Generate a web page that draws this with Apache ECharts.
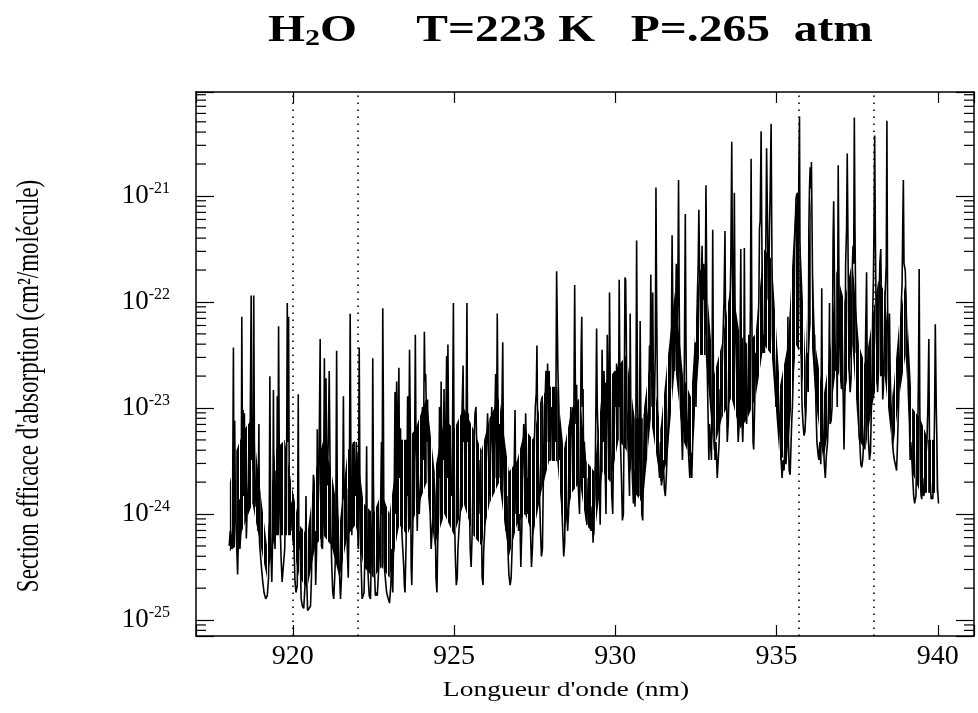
<!DOCTYPE html>
<html><head><meta charset="utf-8">
<script src="https://cdn.jsdelivr.net/npm/echarts@6/dist/echarts.min.js"></script>
<style>html,body{margin:0;padding:0;background:#fff}#c{width:978px;height:713px}</style>
</head><body><div id="c"></div>
<script>
// Absorption cross-section of H2O, values stored as log10(sigma / (cm^2/molecule)) vs wavelength (nm)
const spectrum918to923 = [[918.03,-24.30],[918.06,-24.16],[918.10,-24.33],[918.13,-24.13],[918.16,-22.43],[918.18,-24.00],[918.20,-23.12],[918.22,-23.93],[918.25,-24.20],[918.29,-24.57],[918.32,-24.16],[918.34,-23.86],[918.36,-24.33],[918.40,-24.13],[918.42,-22.14],[918.44,-23.32],[918.46,-23.02],[918.48,-23.83],[918.50,-23.05],[918.52,-24.00],[918.54,-23.32],[918.56,-24.23],[918.59,-23.93],[918.62,-23.69],[918.65,-23.19],[918.67,-23.63],[918.71,-21.94],[918.73,-23.49],[918.75,-23.09],[918.77,-23.59],[918.79,-21.94],[918.81,-23.32],[918.83,-23.63],[918.86,-23.93],[918.89,-23.83],[918.92,-24.16],[918.95,-23.15],[918.97,-24.27],[919.01,-24.43],[919.04,-24.54],[919.07,-24.64],[919.11,-24.74],[919.16,-24.80],[919.21,-24.77],[919.25,-24.60],[919.27,-24.16],[919.29,-22.70],[919.32,-24.33],[919.35,-24.64],[919.38,-24.16],[919.40,-22.83],[919.42,-24.00],[919.45,-24.33],[919.48,-23.59],[919.50,-24.00],[919.52,-22.89],[919.54,-23.83],[919.56,-22.23],[919.58,-23.32],[919.60,-24.00],[919.64,-24.43],[919.67,-24.64],[919.71,-24.65],[919.75,-24.33],[919.78,-23.83],[919.80,-24.16],[919.83,-22.01],[919.85,-23.32],[919.87,-22.14],[919.89,-23.66],[919.91,-23.86],[919.95,-23.90],[919.98,-24.16],[920.01,-24.00],[920.04,-24.33],[920.07,-24.64],[920.10,-24.74],[920.14,-24.67],[920.17,-22.87],[920.19,-24.33],[920.22,-24.16],[920.26,-24.80],[920.30,-24.87],[920.34,-24.89],[920.38,-24.67],[920.41,-23.83],[920.43,-24.60],[920.46,-24.91],[920.50,-24.91],[920.55,-24.87],[920.58,-24.60],[920.61,-24.00],[920.64,-23.63],[920.66,-24.33],[920.69,-24.16],[920.71,-24.67],[920.74,-24.33],[920.76,-23.20],[920.78,-24.00],[920.81,-23.66],[920.85,-22.35],[920.87,-24.00],[920.89,-24.30],[920.92,-24.33],[920.95,-24.00],[920.98,-22.53],[921.00,-23.66],[921.03,-22.72],[921.05,-23.49],[921.07,-23.73],[921.10,-23.32],[921.13,-22.65],[921.16,-23.66],[921.18,-24.13],[921.21,-24.50],[921.24,-24.74],[921.27,-24.80],[921.30,-24.60],[921.33,-24.33],[921.36,-22.46],[921.38,-23.83],[921.41,-23.83],[921.44,-24.50],[921.48,-24.80],[921.51,-24.60],[921.54,-24.16],[921.57,-22.89],[921.59,-23.83],[921.62,-23.90],[921.65,-24.16],[921.67,-23.76],[921.69,-24.33],[921.72,-24.60],[921.75,-24.00],[921.78,-22.11],[921.80,-23.32],[921.83,-24.20],[921.86,-23.66],[921.88,-23.32],[921.91,-23.53],[921.94,-23.83],[921.97,-23.32],[922.00,-24.00],[922.03,-24.33],[922.06,-22.43],[922.09,-24.16],[922.12,-24.50],[922.15,-24.80],[922.18,-24.77],[922.21,-24.74],[922.24,-24.33],[922.27,-24.00],[922.29,-23.36],[922.31,-24.40],[922.34,-24.60],[922.37,-24.77],[922.41,-24.80],[922.44,-24.33],[922.46,-24.00],[922.48,-22.53],[922.50,-23.66],[922.53,-24.50],[922.56,-24.77],[922.59,-24.74],[922.62,-24.77],[922.65,-24.60],[922.68,-24.40],[922.72,-24.00],[922.75,-23.32],[922.77,-24.00],[922.79,-22.06],[922.81,-22.99],[922.83,-24.47]];

const spectrum923to929 = [[922.91,-24.74],[922.96,-24.80],[923.00,-24.84],[923.04,-24.67],[923.07,-24.33],[923.10,-24.74],[923.14,-24.00],[923.17,-22.85],[923.19,-24.00],[923.22,-22.75],[923.24,-23.66],[923.26,-23.32],[923.29,-22.62],[923.31,-23.66],[923.34,-23.19],[923.36,-23.83],[923.38,-24.16],[923.41,-24.33],[923.44,-24.50],[923.46,-24.67],[923.48,-24.74],[923.51,-24.33],[923.54,-23.66],[923.56,-22.89],[923.58,-23.83],[923.60,-23.32],[923.62,-22.45],[923.65,-23.32],[923.67,-24.50],[923.69,-24.67],[923.72,-24.16],[923.75,-23.66],[923.78,-23.32],[923.80,-22.31],[923.82,-23.32],[923.84,-23.83],[923.86,-24.16],[923.89,-23.66],[923.92,-24.00],[923.96,-23.73],[923.99,-23.32],[924.02,-22.99],[924.05,-23.49],[924.08,-22.28],[924.10,-22.75],[924.12,-22.68],[924.14,-22.99],[924.16,-23.32],[924.18,-22.92],[924.20,-23.49],[924.22,-23.83],[924.26,-24.00],[924.29,-24.33],[924.32,-24.16],[924.35,-24.00],[924.38,-23.66],[924.41,-23.83],[924.44,-24.60],[924.47,-24.74],[924.49,-24.33],[924.52,-24.00],[924.55,-22.99],[924.58,-23.66],[924.60,-22.75],[924.62,-23.66],[924.64,-23.32],[924.66,-23.49],[924.69,-22.82],[924.72,-24.00],[924.74,-23.32],[924.77,-22.51],[924.79,-23.66],[924.81,-22.40],[924.83,-23.15],[924.85,-24.00],[924.89,-23.66],[924.92,-23.83],[924.95,-23.32],[924.98,-22.01],[925.00,-23.32],[925.02,-24.10],[925.04,-24.40],[925.07,-24.67],[925.10,-24.60],[925.12,-24.33],[925.15,-24.16],[925.19,-24.00],[925.22,-23.56],[925.25,-22.99],[925.28,-22.60],[925.30,-23.32],[925.32,-23.12],[925.34,-23.66],[925.37,-23.32],[925.40,-22.01],[925.42,-23.32],[925.44,-23.05],[925.46,-23.49],[925.50,-24.33],[925.53,-24.50],[925.56,-24.20],[925.59,-23.66],[925.62,-23.32],[925.65,-23.05],[925.68,-22.99],[925.71,-23.49],[925.74,-23.66],[925.77,-24.00],[925.81,-23.49],[925.84,-23.83],[925.87,-24.60],[925.90,-24.67],[925.92,-24.33],[925.95,-24.16],[925.98,-23.66],[926.01,-23.32],[926.04,-23.05],[926.07,-23.46],[926.11,-23.83],[926.14,-23.32],[926.17,-22.99],[926.20,-23.42],[926.23,-23.66],[926.26,-23.15],[926.29,-22.68],[926.31,-23.66],[926.34,-22.11],[926.36,-22.99],[926.38,-23.32],[926.41,-23.15],[926.43,-23.66],[926.46,-23.49],[926.48,-23.09],[926.51,-22.38],[926.53,-23.32],[926.55,-23.66],[926.58,-24.00],[926.61,-24.16],[926.64,-23.83],[926.67,-24.33],[926.70,-24.57],[926.74,-24.67],[926.77,-24.60],[926.80,-24.33],[926.83,-24.00],[926.86,-23.66],[926.89,-23.02],[926.92,-24.00],[926.94,-23.66],[926.97,-23.83],[927.00,-24.16],[927.04,-24.00],[927.07,-24.50],[927.10,-24.16],[927.13,-23.49],[927.16,-23.15],[927.19,-23.66],[927.22,-23.05],[927.25,-23.49],[927.28,-24.00],[927.31,-23.66],[927.34,-23.83],[927.37,-24.16],[927.40,-24.50],[927.43,-24.33],[927.46,-24.00],[927.49,-23.32],[927.52,-22.99],[927.55,-22.85],[927.57,-22.41],[927.59,-23.15],[927.61,-23.49],[927.65,-23.83],[927.68,-24.16],[927.71,-24.40],[927.74,-24.33],[927.77,-23.66],[927.80,-22.99],[927.83,-22.85],[927.85,-22.65],[927.87,-23.32],[927.90,-22.58],[927.92,-22.92],[927.95,-22.65],[927.97,-23.32],[927.99,-23.15],[928.02,-22.99],[928.05,-23.49],[928.08,-23.32],[928.11,-22.99],[928.14,-23.32],[928.16,-22.82],[928.18,-21.71],[928.20,-22.18],[928.22,-22.65],[928.25,-22.99],[928.28,-23.49],[928.31,-23.32],[928.34,-23.93],[928.37,-24.16],[928.40,-24.40],[928.43,-24.27],[928.46,-23.32],[928.49,-23.83],[928.52,-24.16],[928.55,-24.00],[928.59,-23.49],[928.62,-22.99],[928.65,-23.15],[928.68,-23.66],[928.71,-23.26],[928.74,-21.84],[928.76,-22.75],[928.78,-23.15],[928.80,-22.78],[928.82,-23.32],[928.85,-23.73],[928.89,-24.00],[928.91,-23.49],[928.94,-22.45],[928.96,-22.14],[928.98,-22.99],[929.00,-22.82],[929.02,-23.66],[929.04,-23.32]];

const spectrum929to935 = [[929.06,-23.49],[929.09,-24.00],[929.12,-24.10],[929.16,-23.66],[929.19,-23.83],[929.22,-24.00],[929.25,-24.16],[929.28,-23.93],[929.31,-24.27],[929.34,-24.00],[929.37,-23.83],[929.40,-22.92],[929.42,-22.25],[929.44,-22.99],[929.47,-23.32],[929.50,-23.66],[929.53,-24.10],[929.55,-23.66],[929.57,-23.32],[929.59,-22.45],[929.61,-22.99],[929.63,-23.32],[929.65,-22.65],[929.67,-22.99],[929.69,-23.66],[929.71,-24.00],[929.73,-23.32],[929.75,-22.31],[929.78,-22.99],[929.80,-23.49],[929.82,-21.91],[929.84,-22.65],[929.86,-23.32],[929.89,-23.83],[929.92,-24.00],[929.94,-23.49],[929.97,-23.15],[930.00,-22.65],[930.02,-22.99],[930.04,-22.58],[930.07,-22.72],[930.10,-22.99],[930.12,-21.79],[930.14,-22.65],[930.16,-23.32],[930.19,-23.66],[930.22,-24.06],[930.25,-24.00],[930.28,-22.75],[930.30,-21.77],[930.32,-21.79],[930.34,-22.31],[930.36,-22.99],[930.39,-23.32],[930.41,-23.49],[930.44,-23.83],[930.46,-22.11],[930.48,-22.99],[930.50,-23.32],[930.53,-23.66],[930.56,-23.90],[930.59,-23.59],[930.61,-23.93],[930.63,-23.66],[930.66,-21.42],[930.69,-22.99],[930.71,-23.32],[930.73,-23.83],[930.75,-23.15],[930.77,-22.18],[930.79,-22.99],[930.82,-24.00],[930.85,-24.06],[930.87,-23.66],[930.90,-23.05],[930.93,-23.32],[930.96,-23.49],[930.99,-23.15],[931.03,-22.99],[931.06,-22.41],[931.08,-22.65],[931.10,-21.74],[931.12,-22.48],[931.14,-22.99],[931.16,-21.91],[931.18,-22.75],[931.21,-22.99],[931.24,-22.48],[931.26,-20.92],[931.28,-21.98],[931.31,-22.99],[931.34,-23.49],[931.37,-23.66],[931.40,-23.32],[931.43,-23.73],[931.46,-23.66],[931.49,-23.49],[931.52,-23.76],[931.55,-23.83],[931.58,-23.66],[931.62,-23.32],[931.65,-22.99],[931.68,-22.48],[931.71,-22.82],[931.74,-22.31],[931.76,-21.37],[931.78,-21.98],[931.80,-22.31],[931.82,-22.14],[931.84,-22.65],[931.86,-22.31],[931.89,-21.64],[931.92,-22.31],[931.94,-21.81],[931.96,-20.85],[931.98,-21.98],[932.00,-22.65],[932.02,-22.99],[932.05,-23.15],[932.08,-23.49],[932.11,-23.15],[932.14,-22.58],[932.17,-21.17],[932.19,-22.31],[932.21,-22.99],[932.25,-23.32],[932.28,-23.49],[932.31,-23.66],[932.34,-23.42],[932.37,-23.66],[932.40,-23.32],[932.43,-23.15],[932.46,-22.65],[932.48,-22.38],[932.50,-22.99],[932.52,-22.65],[932.54,-21.98],[932.57,-21.64],[932.59,-21.13],[932.61,-21.64],[932.63,-21.98],[932.65,-22.31],[932.67,-21.81],[932.69,-21.47],[932.71,-21.98],[932.74,-21.64],[932.76,-21.98],[932.78,-22.31],[932.81,-20.90],[932.83,-21.64],[932.85,-22.65],[932.88,-23.15],[932.90,-23.49],[932.92,-23.15],[932.95,-23.32],[932.98,-23.49],[933.00,-22.65],[933.02,-21.32],[933.04,-22.65],[933.06,-22.99],[933.09,-23.49],[933.12,-23.32],[933.16,-23.66],[933.19,-23.49],[933.22,-23.32],[933.25,-22.82],[933.28,-22.99],[933.31,-22.65],[933.34,-22.31],[933.37,-21.98],[933.40,-21.33],[933.42,-22.31],[933.44,-22.65],[933.47,-23.32],[933.50,-23.15],[933.53,-22.82],[933.56,-21.98],[933.58,-21.64],[933.61,-20.49],[933.63,-21.64],[933.65,-22.31],[933.67,-21.98],[933.69,-20.97],[933.71,-21.98],[933.73,-22.31],[933.76,-22.65],[933.78,-22.99],[933.81,-23.32],[933.84,-23.15],[933.86,-22.65],[933.89,-21.50],[933.91,-22.65],[933.93,-23.15],[933.95,-23.32],[933.98,-22.99],[934.00,-21.49],[934.02,-22.65],[934.04,-22.99],[934.07,-23.15],[934.11,-22.82],[934.14,-22.31],[934.17,-22.65],[934.19,-21.98],[934.21,-20.65],[934.23,-21.98],[934.25,-22.82],[934.27,-23.32],[934.29,-23.39],[934.32,-22.99],[934.35,-22.48],[934.39,-22.65],[934.42,-22.31],[934.45,-21.98],[934.47,-21.30],[934.49,-21.24],[934.52,-20.39],[934.54,-21.30],[934.56,-21.98],[934.58,-22.48],[934.60,-22.31],[934.62,-22.48],[934.65,-21.98],[934.67,-21.30],[934.69,-20.55],[934.72,-21.30],[934.74,-21.98],[934.76,-21.81],[934.78,-21.30],[934.80,-20.97],[934.83,-20.32],[934.85,-21.30],[934.87,-22.31],[934.89,-22.48],[934.91,-22.25],[934.93,-22.48],[934.95,-22.65],[934.98,-22.99],[935.01,-22.92],[935.04,-22.75],[935.07,-22.99],[935.09,-23.15]];

const spectrum935to940 = [[935.14,-23.49],[935.17,-23.66],[935.20,-23.49],[935.23,-23.59],[935.26,-23.32],[935.29,-23.53],[935.33,-23.32],[935.35,-22.14],[935.37,-23.32],[935.39,-23.59],[935.42,-23.63],[935.45,-23.32],[935.47,-23.12],[935.49,-22.99],[935.52,-22.65],[935.54,-22.31],[935.56,-21.50],[935.58,-21.30],[935.60,-21.03],[935.62,-20.99],[935.65,-20.97],[935.67,-21.47],[935.69,-20.80],[935.71,-20.25],[935.73,-21.98],[935.75,-22.31],[935.77,-22.65],[935.79,-22.99],[935.82,-23.15],[935.85,-23.26],[935.88,-23.22],[935.91,-22.99],[935.94,-22.65],[935.96,-22.48],[935.98,-22.85],[936.00,-21.30],[936.02,-20.93],[936.04,-20.73],[936.06,-20.93],[936.08,-20.68],[936.10,-21.30],[936.12,-21.98],[936.14,-22.31],[936.16,-22.38],[936.18,-22.31],[936.20,-22.65],[936.22,-22.99],[936.25,-23.32],[936.28,-23.42],[936.31,-23.49],[936.34,-23.32],[936.37,-23.53],[936.40,-21.87],[936.42,-22.99],[936.45,-23.32],[936.48,-23.53],[936.51,-23.66],[936.54,-23.46],[936.58,-23.32],[936.61,-22.99],[936.64,-22.01],[936.66,-23.15],[936.69,-23.12],[936.72,-22.99],[936.75,-21.44],[936.77,-21.05],[936.79,-21.64],[936.81,-22.31],[936.83,-22.65],[936.86,-22.48],[936.88,-22.99],[936.91,-20.71],[936.93,-21.64],[936.95,-22.31],[936.98,-22.65],[937.01,-22.82],[937.03,-22.14],[937.05,-22.65],[937.07,-22.99],[937.09,-23.39],[937.12,-22.82],[937.14,-21.64],[937.17,-21.30],[937.19,-20.60],[937.21,-21.30],[937.23,-22.14],[937.25,-22.65],[937.28,-22.85],[937.31,-22.72],[937.33,-21.98],[937.35,-21.64],[937.37,-21.47],[937.39,-21.64],[937.41,-20.26],[937.43,-21.30],[937.45,-21.98],[937.47,-22.48],[937.50,-22.31],[937.52,-22.65],[937.54,-22.99],[937.56,-23.26],[937.58,-23.32],[937.61,-23.53],[937.64,-23.56],[937.67,-23.49],[937.70,-23.32],[937.73,-23.15],[937.76,-22.31],[937.79,-21.72],[937.81,-22.65],[937.83,-23.15],[937.85,-23.32],[937.88,-23.49],[937.91,-23.42],[937.94,-22.99],[937.96,-22.65],[937.98,-22.11],[938.00,-21.81],[938.02,-21.30],[938.04,-20.43],[938.06,-21.30],[938.09,-22.31],[938.11,-22.48],[938.13,-22.85],[938.16,-22.65],[938.18,-21.98],[938.20,-21.64],[938.23,-21.50],[938.25,-21.98],[938.27,-22.31],[938.29,-22.92],[938.31,-22.82],[938.33,-22.51],[938.36,-21.98],[938.40,-21.64],[938.42,-20.29],[938.44,-21.98],[938.46,-22.65],[938.48,-22.82],[938.50,-22.11],[938.52,-22.65],[938.54,-22.92],[938.57,-23.12],[938.59,-23.32],[938.62,-23.42],[938.65,-23.49],[938.68,-23.53],[938.72,-23.59],[938.75,-23.32],[938.78,-22.99],[938.81,-22.65],[938.84,-22.31],[938.87,-21.98],[938.89,-21.84],[938.91,-21.30],[938.93,-20.85],[938.95,-21.64],[938.97,-21.67],[938.99,-21.71],[939.01,-21.98],[939.04,-22.31],[939.06,-22.48],[939.08,-22.82],[939.10,-22.99],[939.12,-23.15],[939.14,-23.49],[939.16,-23.32],[939.19,-23.46],[939.22,-23.66],[939.25,-23.83],[939.28,-23.90],[939.32,-23.83],[939.35,-23.32],[939.38,-23.15],[939.40,-22.65],[939.42,-21.69],[939.44,-22.99],[939.46,-23.66],[939.48,-23.83],[939.50,-23.86],[939.53,-23.66],[939.56,-23.83],[939.59,-23.79],[939.62,-23.49],[939.66,-23.32],[939.69,-22.99],[939.72,-22.35],[939.74,-23.32],[939.76,-23.66],[939.79,-23.86],[939.82,-23.83],[939.84,-23.86],[939.87,-23.66],[939.90,-22.99],[939.92,-22.21],[939.95,-22.99],[939.97,-23.32],[939.99,-23.76],[940.02,-23.90]];

// Unresolved (solid black) core of densely packed lines: wavelength, upper and lower log10 edges
const coreWavelength = [918.05,918.25,918.5,918.75,919.0,919.2,919.45,919.75,919.95,920.2,920.45,920.7,920.95,921.2,921.45,921.7,921.95,922.2,922.5,922.75,923.0,923.3,923.55,923.8,924.15,924.4,924.7,925.0,925.3,925.6,925.85,926.1,926.4,926.7,926.95,927.2,927.45,927.7,927.95,928.2,928.4,928.65,928.9,929.1,929.35,929.6,929.85,930.1,930.35,930.6,930.85,931.1,931.4,931.6,931.85,932.1,932.35,932.6,932.8,933.05,933.3,933.6,933.85,934.1,934.35,934.6,934.85,935.1,935.35,935.6,935.75,935.9,936.05,936.2,936.45,936.65,936.85,937.1,937.35,937.55,937.75,937.95,938.15,938.35,938.6,938.8,939.0,939.2,939.45,939.7,939.95];
const coreTop = [-23.7,-23.4,-23.2,-23.1,-23.8,-24.3,-23.4,-23.3,-23.7,-24.1,-24.2,-23.6,-23.3,-23.6,-24.1,-23.4,-23.3,-23.9,-24.0,-23.8,-24.0,-23.3,-23.3,-23.2,-22.9,-23.6,-23.1,-23.2,-23.0,-23.2,-23.4,-23.1,-22.9,-23.6,-23.5,-23.2,-23.3,-22.9,-22.8,-22.8,-23.4,-23.0,-22.9,-23.5,-23.6,-22.8,-22.7,-22.6,-22.5,-23.1,-23.1,-22.5,-23.2,-22.6,-21.9,-22.7,-22.9,-21.7,-21.7,-22.7,-22.4,-21.8,-22.3,-22.4,-22.3,-21.5,-21.6,-22.8,-22.4,-21.0,-21.5,-22.6,-21.0,-22.4,-22.9,-22.5,-21.7,-22.0,-21.6,-22.4,-22.6,-22.2,-21.8,-21.9,-22.9,-22.2,-21.8,-23.0,-23.1,-23.3,-23.3];
const coreBottom = [-24.35,-24.3,-24.1,-23.9,-24.3,-24.6,-24.2,-24.2,-24.2,-24.6,-24.7,-24.3,-24.2,-24.3,-24.6,-24.2,-24.1,-24.5,-24.6,-24.5,-24.6,-24.1,-24.2,-24.0,-23.7,-24.3,-24.0,-24.2,-23.9,-24.2,-24.3,-23.9,-23.7,-24.4,-24.1,-24.0,-24.2,-23.8,-23.5,-23.5,-24.2,-23.8,-23.7,-24.1,-24.2,-23.6,-23.7,-23.3,-23.4,-23.8,-23.9,-23.1,-23.7,-23.5,-22.6,-23.3,-23.5,-22.5,-22.5,-23.4,-23.1,-22.9,-23.2,-23.1,-22.9,-22.4,-22.5,-23.5,-23.4,-22.4,-22.5,-23.2,-22.2,-22.9,-23.5,-23.1,-22.6,-22.9,-22.4,-23.3,-23.4,-23.0,-22.7,-22.7,-23.4,-22.9,-22.5,-23.6,-23.8,-23.8,-23.8];

// Reference wavelengths marked by dotted lines (nm)
const markerWavelengths = [920, 922, 935.7, 938];
// Axis ticks
const xTickLabels = [920, 925, 930, 935, 940];
const yTickExponents = [-25, -24, -23, -22, -21];
const minorMultipliers = [2, 3, 4, 5, 6, 7, 8, 9];
const minorDecades = [-26, -25, -24, -23, -22, -21];

const X_MIN = 917, X_MAX = 941.12, Y_MIN = -25.15, Y_MAX = -20.02;
const SERIF = '"Liberation Serif", "Times New Roman", serif';

const spectrum = [].concat(spectrum918to923, spectrum923to929, spectrum929to935, spectrum935to940);
const core = coreWavelength.map((w, i) => [w, coreTop[i], coreBottom[i]]);

const minorTicks = [];
minorDecades.forEach(d => minorMultipliers.forEach(m => {
  const v = d + Math.log10(m);
  if (v > Y_MIN && v < Y_MAX) minorTicks.push([X_MIN, v]);
}));

// striped texture: many unresolved vertical lines
const hatch = document.createElement('canvas');
hatch.width = 4; hatch.height = 4;
(function () { const g = hatch.getContext('2d'); g.fillStyle = '#fff'; g.fillRect(0, 0, 4, 4); g.fillStyle = '#000'; g.fillRect(0, 0, 3, 4); })();

const chart = echarts.init(document.getElementById('c'), null, {renderer: 'canvas'});
const axisLineStyle = {color: '#000', width: 1.5};
chart.setOption({
  animation: false,
  backgroundColor: '#fff',
  grid: {left: 196, right: 4, top: 92, bottom: 77, containLabel: false},
  xAxis: [{
    type: 'value', min: X_MIN, max: X_MAX, position: 'bottom',
    axisLine: {show: true, lineStyle: axisLineStyle},
    axisTick: {show: true, inside: true, length: 11, lineStyle: {color: '#000', width: 1.2}},
    axisLabel: {margin: 7, color: '#000', fontFamily: SERIF, fontSize: 28,
      formatter: v => xTickLabels.indexOf(Math.round(v * 1000) / 1000) >= 0 ? String(v) : ''},
    splitLine: {show: false}
  }, {
    type: 'value', min: X_MIN, max: X_MAX, position: 'top',
    axisLine: {show: true, lineStyle: axisLineStyle},
    axisTick: {show: true, inside: true, length: 11, lineStyle: {color: '#000', width: 1.2}},
    axisLabel: {show: false}, splitLine: {show: false}
  }],
  yAxis: [{
    type: 'value', min: Y_MIN, max: Y_MAX, position: 'left',
    axisLine: {show: true, lineStyle: axisLineStyle},
    axisTick: {show: true, inside: true, length: 18, lineStyle: {color: '#000', width: 1.2}},
    axisLabel: {margin: 26, color: '#000', fontFamily: SERIF,
      formatter: v => yTickExponents.indexOf(Math.round(v * 1000) / 1000) >= 0 ? '{b|10}{s|' + Math.round(v) + '}' : '',
      rich: {
        b: {fontFamily: SERIF, fontSize: 27, color: '#000', lineHeight: 26},
        s: {fontFamily: SERIF, fontSize: 16, color: '#000', lineHeight: 16, padding: [0, 0, 14, 0]}
      }},
    splitLine: {show: false}
  }, {
    type: 'value', min: Y_MIN, max: Y_MAX, position: 'right',
    axisLine: {show: true, lineStyle: axisLineStyle},
    axisTick: {show: true, inside: true, length: 18, lineStyle: {color: '#000', width: 1.2}},
    axisLabel: {show: false}, splitLine: {show: false}
  }],
  graphic: [
    {type: 'text', x: 268, y: 31, scaleX: 1.25, silent: true,
      style: {text: '{a|H}{b|2}{a|O\u00a0\u00a0\u00a0\u00a0\u00a0T=223 K\u00a0\u00a0\u00a0P=.265\u00a0\u00a0atm}',
        align: 'left', verticalAlign: 'middle',
        rich: {
          a: {fontFamily: SERIF, fontWeight: 'bold', fontSize: 38, lineHeight: 40, fill: '#000'},
          b: {fontFamily: SERIF, fontWeight: 'bold', fontSize: 24, lineHeight: 24, padding: [16, 0, 0, 0], fill: '#000'}
        }}},
    {type: 'text', x: 566, y: 690, scaleX: 1.25, silent: true,
      style: {text: "Longueur d'onde (nm)", font: '22px ' + SERIF, fill: '#000', align: 'center', verticalAlign: 'middle'}},
    {type: 'text', x: 30, y: 386, rotation: Math.PI / 2, scaleY: 1.35, silent: true,
      style: {text: "Section efficace d'absorption (cm\u00b2/molécule)", font: '23px ' + SERIF, fill: '#000', align: 'center', verticalAlign: 'middle'}}
  ],
  series: [{
    type: 'custom', xAxisIndex: 0, yAxisIndex: 0, silent: true, z: 1,
    data: core,
    renderItem: (params, api) => {
      const i = params.dataIndexInside;
      if (i >= params.dataInsideLength - 1) return null;
      const a = api.coord([api.value(0, i), api.value(1, i)]);
      const b = api.coord([api.value(0, i + 1), api.value(1, i + 1)]);
      const c = api.coord([api.value(0, i + 1), api.value(2, i + 1)]);
      const d = api.coord([api.value(0, i), api.value(2, i)]);
      return {type: 'polygon', shape: {points: [a, b, c, d]},
        style: {fill: {image: hatch, repeat: 'repeat'}, stroke: null}};
    }
  }, {
    type: 'line', xAxisIndex: 0, yAxisIndex: 0, z: 3,
    data: spectrum, showSymbol: false, symbol: 'none', sampling: null,
    lineStyle: {color: '#000', width: 1.6, join: 'miter', miterLimit: 2}, silent: true,
    markLine: {
      silent: true, symbol: ['none', 'none'], label: {show: false},
      lineStyle: {color: '#000', width: 1.6, type: [1.6, 5.4]},
      emphasis: {disabled: true},
      data: markerWavelengths.map(w => ({xAxis: w}))
    }
  }, {
    type: 'custom', xAxisIndex: 0, yAxisIndex: 0, silent: true,
    data: minorTicks,
    renderItem: (params, api) => {
      const p = api.coord([api.value(0), api.value(1)]);
      const cs = params.coordSys;
      const st = {stroke: '#000', lineWidth: 1.2};
      return {type: 'group', children: [
        {type: 'line', shape: {x1: cs.x, y1: p[1], x2: cs.x + 10, y2: p[1]}, style: st},
        {type: 'line', shape: {x1: cs.x + cs.width - 10, y1: p[1], x2: cs.x + cs.width, y2: p[1]}, style: st}
      ]};
    }
  }]
});
</script>
</body></html>
